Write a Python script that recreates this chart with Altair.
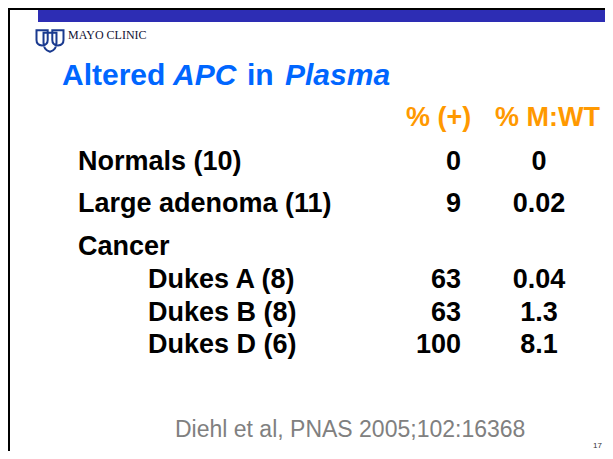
import altair as alt
import pandas as pd

# ---------------- data ----------------
row_labels = ["Normals (10)", "Large adenoma (11)", "Cancer",
              "Dukes A (8)", "Dukes B (8)", "Dukes D (6)"]
row_level = [0, 0, 0, 1, 1, 1]
pct_positive = ["0", "9", "", "63", "63", "100"]
mut_wt_ratio = ["0", "0.02", "", "0.04", "1.3", "8.1"]
col_headers = ["% (+)", "% M:WT"]
title_parts = ["Altered", "APC", "in", "Plasma"]
title_italic = [False, True, False, True]
citation = ["Diehl et al, PNAS 2005;102:16368"]
slide_number = ["17"]
logo_text = ["MAYO CLINIC"]

# ---------------- layout (chart pixel coordinates) ----------------
W, H = 597, 443
row_baseline = [162, 204, 247, 280, 313, 345]
header_x = [398, 487]
header_baseline = 118
title_x = [54, 165, 239, 277]
title_baseline = 77
col1_right = 453
col2_center = 531

FONT = "Liberation Sans"
XI = alt.X("x:Q", scale=None, axis=None)
YI = alt.Y("y:Q", scale=None, axis=None)

rows = pd.DataFrame({
    "label": row_labels, "level": row_level, "y": row_baseline,
    "c1": pct_positive, "c2": mut_wt_ratio,
})
rows["x1"] = col1_right
rows["x2"] = col2_center

one = pd.DataFrame({"x": [0]})

# frame lines and blue bar
vline = alt.Chart(one).mark_rule(color="black", strokeWidth=2).encode(
    x=alt.value(1), y=alt.value(0), y2=alt.value(H))
hline = alt.Chart(one).mark_rule(color="black", strokeWidth=2).encode(
    x=alt.value(0), x2=alt.value(W), y=alt.value(1))
bar = alt.Chart(one).mark_rect(color="#2d2db4").encode(
    x=alt.value(30), x2=alt.value(W), y=alt.value(2), y2=alt.value(14))

# logo
logo_path = ("M -1 -0.79 L -0.17 -0.79 L -0.17 -0.07 Q -0.17 0.3 -0.59 0.34 Q -1 0.3 -1 -0.07 Z "
             "M 0.17 -0.79 L 1 -0.79 L 1 -0.07 Q 1 0.3 0.59 0.34 Q 0.17 0.3 0.17 -0.07 Z "
             "M -0.48 -0.62 L 0.48 -0.62 L 0.48 0.14 Q 0.48 0.65 0 0.79 Q -0.48 0.65 -0.48 0.14 Z")
logo = alt.Chart(one).mark_point(shape=logo_path, size=729, filled=False,
                                 stroke="#1a3a8f", strokeWidth=2, opacity=1).encode(
    x=alt.value(42), y=alt.value(33))
logo_t = alt.Chart(pd.DataFrame({"t": logo_text})).mark_text(
    font="Liberation Serif", fontSize=12, fontWeight="normal", align="left",
    baseline="alphabetic", color="#111133").encode(
    x=alt.value(60), y=alt.value(31), text="t:N")

# title
tdf = pd.DataFrame({"t": title_parts, "it": title_italic, "x": title_x, "y": title_baseline})
title_n = alt.Chart(tdf[~tdf["it"]]).mark_text(
    font=FONT, fontSize=30, fontWeight="bold", align="left", baseline="alphabetic",
    color="#0066ff").encode(x=XI, y=YI, text="t:N")
title_i = alt.Chart(tdf[tdf["it"]]).mark_text(
    font=FONT, fontSize=30, fontWeight="bold", fontStyle="italic", align="left",
    baseline="alphabetic", color="#0066ff").encode(x=XI, y=YI, text="t:N")

# headers
hdf = pd.DataFrame({"t": col_headers, "x": header_x, "y": header_baseline})
headers = alt.Chart(hdf).mark_text(
    font=FONT, fontSize=27, fontWeight="bold", align="left", baseline="alphabetic",
    color="#ff9900").encode(x=XI, y=YI, text="t:N")

# row labels
labels = alt.Chart(rows).mark_text(
    font=FONT, fontSize=27, fontWeight="bold", align="left", baseline="alphabetic",
    color="black").encode(
    x=alt.X("level:Q", scale=alt.Scale(domain=[0, 1], range=[70, 140]), axis=None),
    y=YI, text="label:N")
col1 = alt.Chart(rows).mark_text(
    font=FONT, fontSize=27, fontWeight="bold", align="right", baseline="alphabetic",
    color="black").encode(x=alt.X("x1:Q", scale=None, axis=None), y=YI, text="c1:N")
col2 = alt.Chart(rows).mark_text(
    font=FONT, fontSize=27, fontWeight="bold", align="center", baseline="alphabetic",
    color="black").encode(x=alt.X("x2:Q", scale=None, axis=None), y=YI, text="c2:N")

# citation and slide number
cite = alt.Chart(pd.DataFrame({"t": citation})).mark_text(
    font=FONT, fontSize=23, align="left", baseline="alphabetic", color="#808080").encode(
    x=alt.value(167), y=alt.value(429), text="t:N")
num = alt.Chart(pd.DataFrame({"t": slide_number})).mark_text(
    font=FONT, fontSize=8, align="right", baseline="alphabetic", color="#333333").encode(
    x=alt.value(594), y=alt.value(440), text="t:N")

chart = alt.layer(vline, hline, bar, logo, logo_t, title_n, title_i, headers,
                  labels, col1, col2, cite, num).resolve_scale(x="independent", y="independent").properties(
    width=W, height=H, padding=0, autosize=alt.AutoSizeParams(type="none"),
    background="white").configure_view(stroke=None)

chart.save("out.html", embed_options={"renderer": "svg", "actions": False})
